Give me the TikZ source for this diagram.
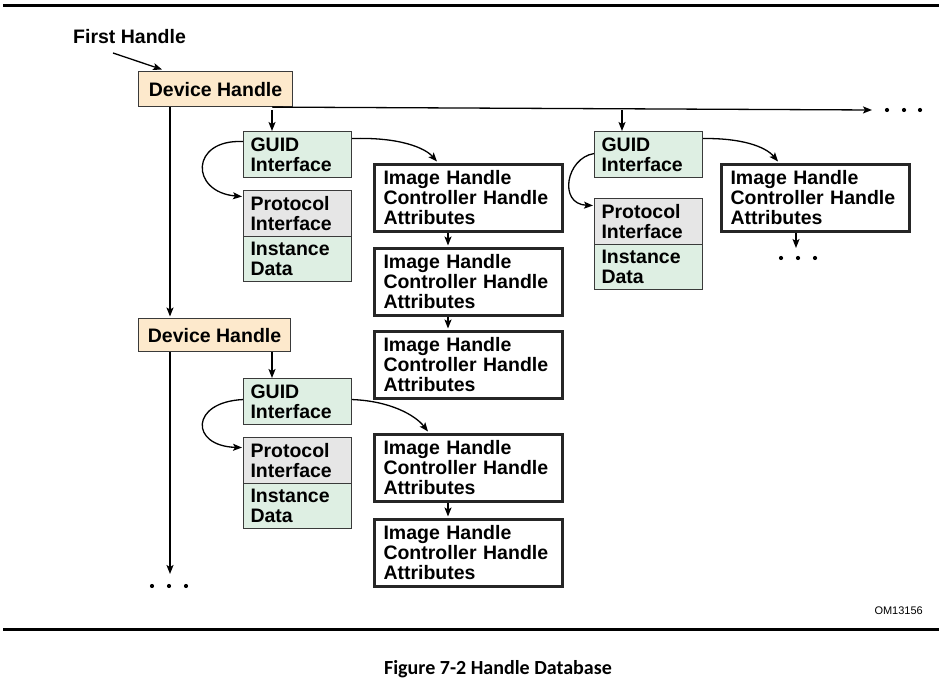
\documentclass[tikz,border=0pt]{standalone}
\usepackage{fontspec}
\setmainfont{Liberation Sans}
\newfontfamily\capfont{Carlito}
\usetikzlibrary{arrows.meta,calc}
\definecolor{dhfill}{HTML}{FDE9CC}
\definecolor{gfill}{HTML}{DEEFE3}
\definecolor{pfill}{HTML}{E6E6E6}
\definecolor{edge}{HTML}{3A3A3A}
\tikzset{
  big/.style={font=\bfseries\fontsize{19.5}{20}\selectfont},
  dh/.style={big, draw=edge, line width=1.1pt, fill=dhfill, anchor=north west, inner sep=0pt, align=center},
  gbox/.style={big, draw=edge, line width=1.1pt, fill=gfill, anchor=north west, inner xsep=7pt, inner ysep=0pt,
     minimum width=108pt, minimum height=46pt, text width=94pt, align=left},
  pbox/.style={gbox, fill=pfill},
  ibox/.style={big, draw=black!85, line width=3pt, fill=white, anchor=north west, inner xsep=9pt, inner ysep=0pt,
     minimum width=188pt, minimum height=67pt, text width=170pt, align=left},
  conn/.style={line width=1.3pt, -{Stealth[length=9pt,width=7pt,inset=2pt]}},
  plain/.style={line width=1.3pt},
  dot/.style={fill=black},
}
\begin{document}
\begin{tikzpicture}[x=1pt,y=-1pt]
\useasboundingbox (0,0) rectangle (945,684);
% frame lines
\coordinate (tl) at (3,5.5); \coordinate (tr) at (939,5.5);
\coordinate (bl) at (3,629.5); \coordinate (br) at (939,629.5);
\draw[line width=3pt] (tl) -- (tr);
\draw[line width=3.3pt] (bl) -- (br);

% first handle
\node[big, anchor=base west, inner sep=0pt] (fh) at (73,44) {First Handle};
\coordinate (fhs) at (113,53);

% device handles
\node[dh, minimum width=154pt, minimum height=35pt] (dh1) at (138,71) {Device Handle};
\node[dh, minimum width=152pt, minimum height=33pt] (dh2) at (138,318) {Device Handle};

% group 1
\node[gbox] (g1) at (243,131) {GUID\\Interface};
\node[pbox] (p1) at (243,190) {Protocol\\Interface};
\node[gbox, minimum height=45pt] (d1) at (243,236) {Instance\\Data};
\node[ibox] (i1) at (373,163) {Image Handle\\Controller Handle\\Attributes};
\node[ibox] (i2) at (373,247) {Image Handle\\Controller Handle\\Attributes};
\node[ibox] (i3) at (373,330) {Image Handle\\Controller Handle\\Attributes};

% group 2
\node[gbox] (g2) at (243,378) {GUID\\Interface};
\node[pbox] (p2) at (243,437) {Protocol\\Interface};
\node[gbox, minimum height=45pt] (d2) at (243,483) {Instance\\Data};
\node[ibox] (i4) at (373,433) {Image Handle\\Controller Handle\\Attributes};
\node[ibox] (i5) at (373,518) {Image Handle\\Controller Handle\\Attributes};

% group 3
\node[gbox] (g3) at (594,131) {GUID\\Interface};
\node[pbox] (p3) at (594,198) {Protocol\\Interface};
\node[gbox, minimum height=45pt] (d3) at (594,244) {Instance\\Data};
\node[ibox] (i6) at (720,163) {Image Handle\\Controller Handle\\Attributes};

% junctions and free ends
\coordinate (j1) at (272,110);
\coordinate (j2) at (622,110);
\coordinate (hend) at (872,110);
\coordinate (vend) at (170,574);
\coordinate (i6end) at (796,248);

% connectors
\draw[conn] (fhs) -- ($(dh1.north west)+(24,-1.5)$);
\draw[conn] ($(dh1.south west)+(32,0)$) -- ($(dh2.north west)+(32,-1.5)$);
\draw[conn] ($(dh2.south west)+(32,0)$) -- (vend);
\draw[conn] (dh1.south -| j1) -- (hend);
\draw[conn] (j1) -- (g1.north -| j1);
\draw[conn] (j2) -- (g3.north -| j2);
\draw[conn] (dh2.south -| j1) -- (g2.north -| j1);

\draw[conn] ($(g1.west)+(0,-13)$) .. controls (190,139) and (190,192) .. ($(p1.west)+(-1,-17)$);
\draw[conn] ($(g1.east)+(0,-16)$) .. controls (400,137) and (425,148) .. ($(i1.north west)+(64,-1.5)$);
\draw[conn] ($(g2.west)+(0,-2)$) .. controls (190,402) and (190,446) .. ($(p2.west)+(-1,-13)$);
\draw[conn] ($(g2.east)+(0,-2)$) .. controls (390,401) and (415,415) .. ($(i4.north west)+(55,-1.5)$);
\draw[conn] ($(g3.west)+(0,-1)$) .. controls (566,158) and (558,204) .. ($(p3.west)+(-1,-16)$);
\draw[conn] ($(g3.east)+(0,-16)$) .. controls (740,138) and (765,146) .. ($(i6.north west)+(58,-1.5)$);

\draw[conn] ($(i1.south west)+(75,0)$) -- ($(i2.north west)+(75,-1.5)$);
\draw[conn] ($(i2.south west)+(75,0)$) -- ($(i3.north west)+(75,-1.5)$);
\draw[conn] ($(i4.south west)+(75,0)$) -- ($(i5.north west)+(75,-1.5)$);
\draw[conn] ($(i6.south west)+(76,0)$) -- (i6end);

% ellipses
\foreach \x in {887,904,920} \fill[dot] (\x,110) circle (2.1pt);
\foreach \x in {781,798,815} \fill[dot] (\x,258) circle (2.1pt);
\foreach \x in {152,169,186} \fill[dot] (\x,586) circle (2.1pt);

% labels
\node[anchor=base east, inner sep=0pt, font=\fontsize{11}{12}\selectfont] (om) at (923,614) {OM13156};
\node[anchor=base, inner sep=0pt, font=\capfont\bfseries\fontsize{20}{22}\selectfont] (cap) at (498,674) {Figure 7-2 Handle Database};
\end{tikzpicture}
\end{document}
